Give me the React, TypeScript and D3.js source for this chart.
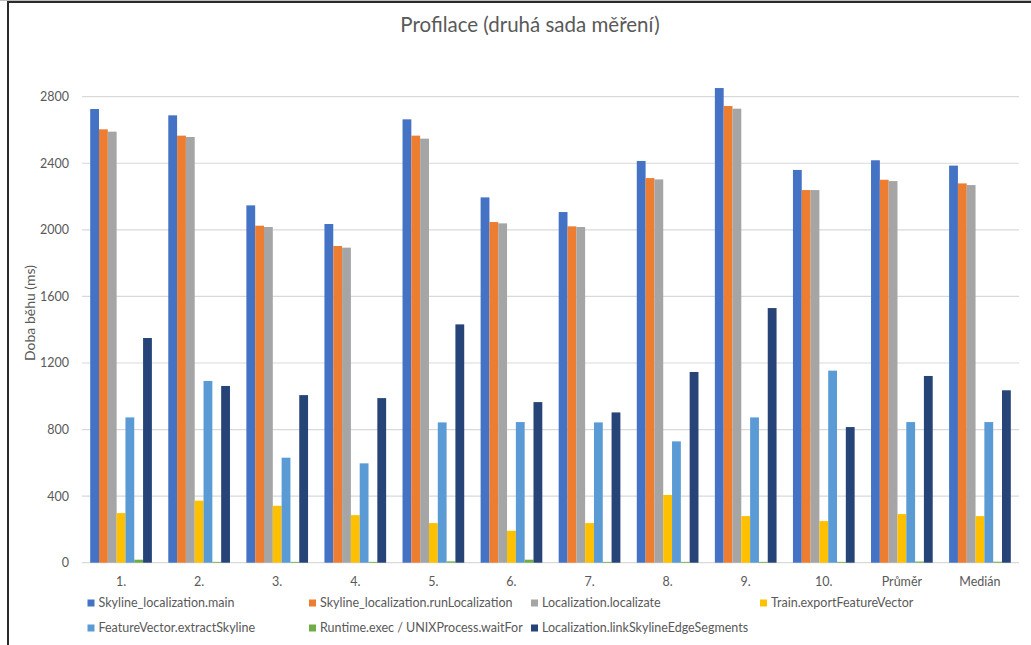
import React from "react";
import * as d3 from "d3";

// Categories: ten measurement runs plus mean and median
const categories = ["1.", "2.", "3.", "4.", "5.", "6.", "7.", "8.", "9.", "10.", "Průměr", "Medián"];

// Run times (ms) per profiled method
const mainValues = [2726, 2688, 2147, 2035, 2664, 2195, 2107, 2414, 2852, 2360, 2418, 2386];
const runLocalizationValues = [2604, 2566, 2025, 1903, 2566, 2047, 2021, 2311, 2744, 2239, 2301, 2279];
const localizateValues = [2590, 2558, 2017, 1893, 2548, 2039, 2017, 2303, 2728, 2239, 2293, 2269];
const exportFeatureVectorValues = [298, 373, 342, 286, 238, 192, 238, 407, 280, 250, 292, 280];
const extractSkylineValues = [873, 1092, 631, 597, 843, 845, 843, 729, 873, 1154, 845, 845];
const waitForValues = [18, 5, 5, 5, 8, 18, 5, 5, 5, 5, 7, 6];
const linkSegmentsValues = [1350, 1062, 1007, 989, 1432, 965, 903, 1146, 1530, 815, 1122, 1036];

const seriesNames = [
  "Skyline_localization.main",
  "Skyline_localization.runLocalization",
  "Localization.localizate",
  "Train.exportFeatureVector",
  "FeatureVector.extractSkyline",
  "Runtime.exec / UNIXProcess.waitFor",
  "Localization.linkSkylineEdgeSegments",
];
const seriesValues = [
  mainValues,
  runLocalizationValues,
  localizateValues,
  exportFeatureVectorValues,
  extractSkylineValues,
  waitForValues,
  linkSegmentsValues,
];
const seriesColors = ["#4472C4", "#ED7D31", "#A5A5A5", "#FFC000", "#5B9BD5", "#70AD47", "#264478"];

const yTicks = [0, 400, 800, 1200, 1600, 2000, 2400, 2800];

const title = "Profilace (druhá sada měření)";
const yTitle = "Doba běhu (ms)";

const W = 1031;
const H = 645;
const plotLeft = 82;
const plotRight = 1019;
const plotTop = 96.7;
const plotBottom = 562.7;
const font = "Lato, 'Open Sans', sans-serif";
const textColor = "#595959";

// Legend layout: two rows, four columns
const legendCols = [87.5, 309, 531, 760];
const legendRows = [603, 628];

export default function App() {
  const x0 = d3.scaleBand<string>().domain(categories).range([plotLeft, plotRight]).padding(0);
  const x1 = d3
    .scaleBand<number>()
    .domain(d3.range(seriesNames.length))
    .range([0, x0.bandwidth()])
    .paddingInner(0)
    .paddingOuter(0.93);
  const y = d3.scaleLinear().domain([0, 2800]).range([plotBottom, plotTop]);

  return (
    <div style={{ position: "absolute", left: 0, top: 0, width: W, height: H, background: "#fff" }}>
      <svg width={W} height={H} style={{ display: "block" }}>
        <rect x={0} y={0} width={W} height={H} fill="#fff" />
        {/* frame */}
        <line x1={0} x2={W} y1={0.5} y2={0.5} stroke="#bdbdbd" strokeWidth={1} />
        <line x1={7} x2={W} y1={2} y2={2} stroke="#2b2b2b" strokeWidth={2} />
        <line x1={8} x2={8} y1={1} y2={H} stroke="#2b2b2b" strokeWidth={2} />

        <text x={530} y={32} textAnchor="middle" fontFamily={font} fontSize={20.5} fill={textColor}>
          {title}
        </text>

        {/* gridlines */}
        {yTicks.map((t) => (
          <g key={t}>
            <line x1={plotLeft} x2={plotRight} y1={y(t)} y2={y(t)} stroke="#d9d9d9" strokeWidth={1.2} />
            <text x={69} y={y(t) + 4.5} textAnchor="end" fontFamily={font} fontSize={12.5} fill={textColor}>
              {t}
            </text>
          </g>
        ))}

        <text
          transform={`translate(35,313) rotate(-90)`}
          textAnchor="middle"
          fontFamily={font}
          fontSize={14}
          fill={textColor}
        >
          {yTitle}
        </text>

        {/* bars */}
        {categories.map((c, ci) => (
          <g key={c} transform={`translate(${x0(c)},0)`}>
            {seriesValues.map((vals, si) => (
              <rect
                key={si}
                x={x1(si)}
                y={y(vals[ci])}
                width={x1.bandwidth()}
                height={y(0) - y(vals[ci])}
                fill={seriesColors[si]}
              />
            ))}
          </g>
        ))}

        {/* category labels */}
        {categories.map((c) => (
          <text
            key={c}
            x={(x0(c) as number) + x0.bandwidth() / 2}
            y={586}
            textAnchor="middle"
            fontFamily={font}
            fontSize={12.5}
            fill={textColor}
          >
            {c}
          </text>
        ))}

        {/* legend */}
        {seriesNames.map((name, i) => {
          const lx = legendCols[i % 4];
          const ly = legendRows[Math.floor(i / 4)];
          return (
            <g key={name}>
              <rect x={lx} y={ly - 3.5} width={7} height={7} fill={seriesColors[i]} />
              <text x={lx + 11} y={ly + 4.3} fontFamily={font} fontSize={12.5} fill={textColor}>
                {name}
              </text>
            </g>
          );
        })}
      </svg>
    </div>
  );
}
